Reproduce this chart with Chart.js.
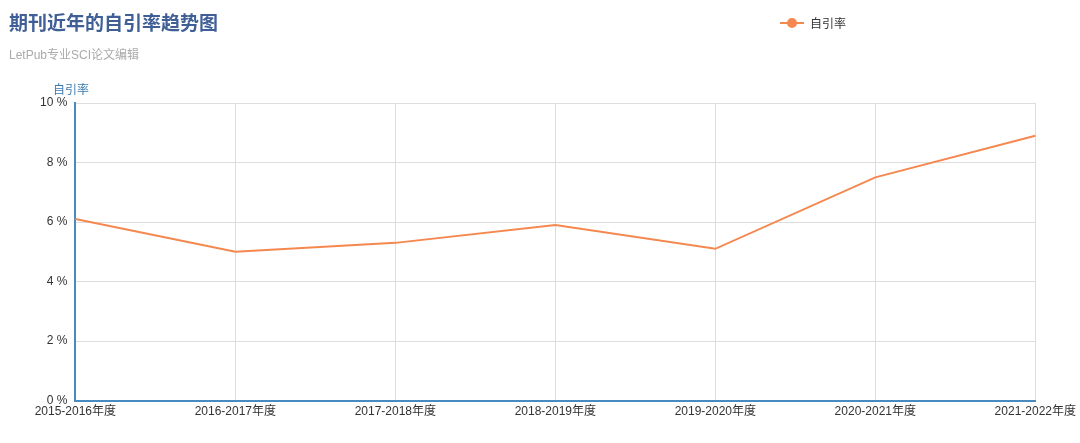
<!DOCTYPE html>
<html>
<head>
<meta charset="utf-8">
<script src="https://cdn.jsdelivr.net/npm/chart.js@4"></script>
<style>
  body { margin: 0; background: #fff; font-family: "Liberation Sans", "Noto Sans CJK SC", sans-serif; }
  #wrap { position: relative; width: 1080px; height: 443px; }
  #title { position: absolute; left: 9px; top: 8px; font-size: 19px; font-weight: bold; color: #3f5f96; }
  #sub { position: absolute; left: 9px; top: 45px; font-size: 12px; color: #aaa; }
  #yt { position: absolute; left: 53px; top: 80px; font-size: 12px; color: #3c7ab0; }
  #legend { position: absolute; left: 780px; top: 14px; font-size: 12px; color: #333; display: flex; align-items: center; }
  #legend .mk { position: relative; width: 24px; height: 10px; margin-right: 6px; }
  #legend .ln { position: absolute; left: 0; top: 4px; width: 24px; height: 2px; background: #f5884f; }
  #legend .dt { position: absolute; left: 7px; top: 0; width: 10px; height: 10px; border-radius: 50%; background: #f5884f; }
  canvas { position: absolute; left: 0; top: 0; }
</style>
</head>
<body>
<div id="wrap">
  <canvas id="c" width="1080" height="443"></canvas>
  <div id="title">期刊近年的自引率趋势图</div>
  <div id="sub">LetPub专业SCI论文编辑</div>
  <div id="yt">自引率</div>
  <div id="legend"><span class="mk"><span class="ln"></span><span class="dt"></span></span>自引率</div>
</div>
<script>
const categories = ['2015-2016年度', '2016-2017年度', '2017-2018年度', '2018-2019年度', '2019-2020年度', '2020-2021年度', '2021-2022年度'];
const selfCitationRate = [6.1, 5.0, 5.3, 5.9, 5.1, 7.5, 8.9];
const yTicks = [0, 2, 4, 6, 8, 10];

Chart.defaults.font.family = '"Liberation Sans", "Noto Sans CJK SC", sans-serif';

const ctx = document.getElementById('c').getContext('2d');
new Chart(ctx, {
    type: 'line',
    data: {
        labels: categories,
        datasets: [{
            label: '自引率',
            data: selfCitationRate,
            borderColor: '#f5884f',
            backgroundColor: '#f5884f',
            borderWidth: 2,
            pointRadius: 0,
            tension: 0
        }]
    },
    options: {
        responsive: false,
        animation: false,
        layout: { padding: { top: 103, right: 26, left: 32, bottom: 20 } },
        plugins: { legend: { display: false }, tooltip: { enabled: false } },
        scales: {
            x: {
                offset: false,
                grid: { color: '#ddd', drawTicks: false },
                border: { color: '#4a8bbf', width: 2 },
                ticks: { color: '#333', font: { size: 12 }, maxRotation: 0, autoSkip: false, padding: 4 }
            },
            y: {
                min: 0, max: 10,
                afterBuildTicks: function(axis) { axis.ticks = yTicks.map(v => ({ value: v })); },
                grid: { color: '#ddd', drawTicks: false },
                border: { color: '#4a8bbf', width: 2 },
                ticks: { color: '#333', font: { size: 12 }, padding: 8, callback: function(v) { return v + ' %'; } }
            }
        }
    }
});
</script>
</body>
</html>
